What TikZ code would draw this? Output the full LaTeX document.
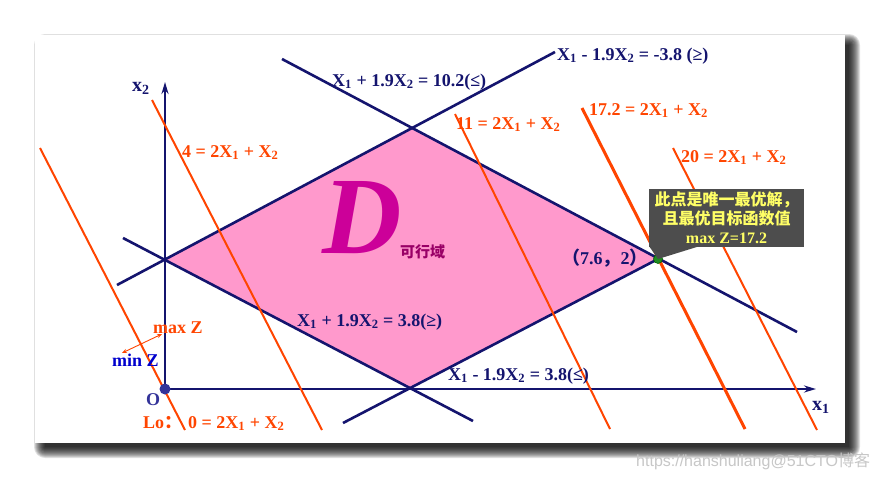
\documentclass[tikz,border=0pt]{standalone}
\usepackage[svgnames]{xcolor}
\usepackage{fontspec}
\setmainfont{Liberation Serif}
\newfontfamily\cjk{Noto Sans CJK SC}
\newfontfamily\markfont{Liberation Sans}
\usetikzlibrary{arrows.meta}
\definecolor{constraintLine}{HTML}{14146E}
\colorlet{objectiveLine}{OrangeRed}
\definecolor{regionFill}{HTML}{FF99CC}
\definecolor{bigLetter}{HTML}{CC0099}
\definecolor{regionText}{HTML}{990066}
\definecolor{calloutFill}{HTML}{4D4D4D}
\definecolor{calloutText}{HTML}{FFFF66}
\definecolor{originDot}{HTML}{333399}
\colorlet{minText}{MediumBlue}
\colorlet{optimumDot}{ForestGreen}

\begin{document}
\begin{tikzpicture}[
  x=1pt,y=-1pt,
  constraint/.style={
    draw=constraintLine,
    line width=2.6pt,
  },
  objective/.style={
    draw=objectiveLine,
    line width=2pt,
  },
  axis/.style={
    draw=constraintLine,
    line width=2.4pt,
    -{Stealth[length=12pt,width=7pt]},
  },
  every label text/.style={
    inner sep=0pt,
    anchor=base west,
    font=\bfseries\fontsize{18}{20}\selectfont,
  },
  eq label/.style={
    every label text,
    text=constraintLine,
  },
  obj label/.style={
    every label text,
    text=objectiveLine,
  },
  calloutbox/.style={
    fill=calloutFill,
    text=calloutText,
    minimum width=155pt,
    minimum height=58pt,
    inner sep=0pt,
    align=center,
    font=\cjk\bfseries\fontsize{16}{19}\selectfont,
  }
]
\useasboundingbox (0,0) rectangle (880,479);
\fill[white] (0,0) rectangle (880,479);
% slide with its shadow
\foreach \s in {0,...,11} {
  \fill[black,opacity=0.12,rounded corners=\s pt]
    (45-\s,45-\s) rectangle (849+\s,447+\s);
}
\fill[white] (35,35) rectangle (845,443);

\coordinate (O) at (165,389);
\coordinate (L) at (165,259);
\coordinate (T) at (411,128);
\coordinate (R) at (658,259);
\coordinate (B) at (411,388);

% feasible region
\fill[regionFill] (L) -- (T) -- (R) -- (B) -- cycle;

% constraints
\draw[constraint] (117,285) -- (555,52);
\draw[constraint] (282,59) -- (797,332);
\draw[constraint] (123,238) -- (473,421);
\draw[constraint] (343,423) -- (R);

% axes
\draw[axis] (O) -- (816,389);
\draw[axis] (O) -- (165,82);

% objective lines
\foreach \top/\bot/\lw in {{(40,148)}/{(185,430)}/2,
                            {(152,100)}/{(322,430)}/2,
                            {(455,114)}/{(610,429)}/2,
                            {(582,108)}/{(745,429)}/3,
                            {(673,148)}/{(817,430)}/2} {
  \draw[objective,line width=\lw pt] \top -- \bot;
}

\fill[originDot] (O) circle (5.5);
\filldraw[fill=optimumDot,draw=DarkGreen,line width=0.6pt] (R) circle (4.5);

% callout
\node[calloutbox] (note) at (726.5,218)
  {此点是唯一最优解，\\
   且最优目标函数值\\
   {\rmfamily max Z=17.2}};
\fill[calloutFill] (649,246) -- (R) -- (700,246) -- cycle;

% labels
\node[eq label] (c1) at (332,86) {X\textsubscript{1} + 1.9X\textsubscript{2} = 10.2(≤)};
\node[eq label] (c2) at (557,60) {X\textsubscript{1} - 1.9X\textsubscript{2} = -3.8 (≥)};
\node[eq label] (c3) at (297,326) {X\textsubscript{1} + 1.9X\textsubscript{2} = 3.8(≥)};
\node[eq label] (c4) at (448,380) {X\textsubscript{1} - 1.9X\textsubscript{2} = 3.8(≤)};
\node[obj label] (z4) at (182,157) {4 = 2X\textsubscript{1} + X\textsubscript{2}};
\node[obj label] (z11) at (456,129) {11 = 2X\textsubscript{1} + X\textsubscript{2}};
\node[obj label] (z17) at (589,115) {17.2 = 2X\textsubscript{1} + X\textsubscript{2}};
\node[obj label] (z20) at (681,162) {20 = 2X\textsubscript{1} + X\textsubscript{2}};
\node[obj label] (lo) at (143,428) {Lo{\cjk ：}};
\node[obj label] (z0) at (188,428) {0 = 2X\textsubscript{1} + X\textsubscript{2}};
\node[eq label] (opt) at (562,264) {{\cjk （}7.6{\cjk ，}2{\cjk ）}};

\node[eq label,font=\bfseries\fontsize{20}{22}\selectfont] (x2) at (132,91) {x\textsubscript{2}};
\node[eq label,font=\bfseries\fontsize{20}{22}\selectfont] (x1) at (812,410) {x\textsubscript{1}};
\node[eq label,text=originDot] (o) at (146,405) {O};

\node[obj label] (maxz) at (153,333) {max Z};
\node[eq label,text=minText] (minz) at (112,366) {min Z};
\coordinate (minEnd) at (122,353);
\coordinate (maxEnd) at (162,334);
\draw[objectiveLine,line width=0.9pt,{Stealth[length=5pt,width=4pt]}-{Stealth[length=5pt,width=4pt]}]
  (minEnd) -- (maxEnd);

\node[inner sep=0pt,anchor=base west,text=bigLetter,
  font=\bfseries\itshape\fontsize{110}{112}\selectfont] (dom) at (322,253) {D};
\node[inner sep=0pt,anchor=base west,text=regionText,
  font=\cjk\bfseries\fontsize{15}{16}\selectfont] (domtext) at (400,257) {可行域};

% watermark
\node[inner sep=0pt,anchor=base west,text=black!22,
  font=\markfont\fontsize{16}{18}\selectfont] (mark) at (636,466) {https://hanshuliang@51CTO{\cjk 博客}};
\end{tikzpicture}
\end{document}
